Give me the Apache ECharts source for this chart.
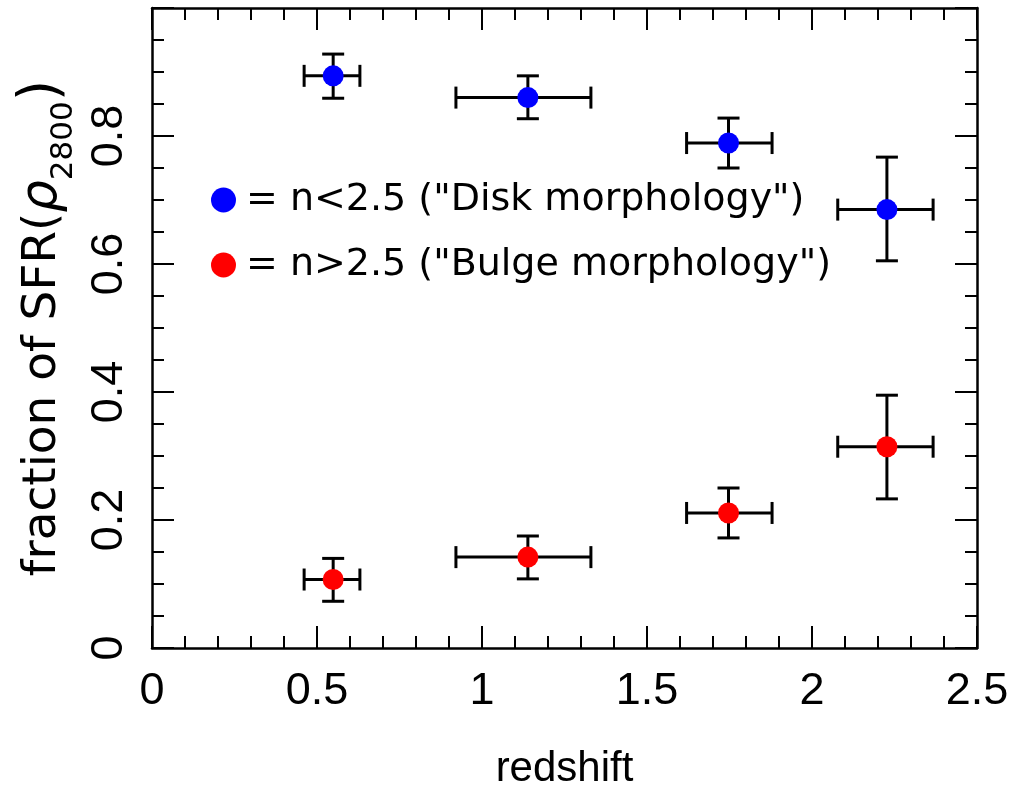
<!DOCTYPE html>
<html>
<head>
<meta charset="utf-8">
<script src="https://cdn.jsdelivr.net/npm/echarts@6/dist/echarts.min.js"></script>
<style>
html,body{margin:0;padding:0;background:#fff;}
#chart{width:1017px;height:808px;}
</style>
</head>
<body>
<div id="chart"></div>
<script>
// Data
const xCenters = [0.549, 1.139, 1.747, 2.227];
const xLow = [0.461, 0.921, 1.620, 2.078];
const xHigh = [0.630, 1.330, 1.879, 2.367];
const diskFrac = [0.894, 0.860, 0.789, 0.685];
const diskLow = [0.859, 0.827, 0.750, 0.605];
const diskHigh = [0.928, 0.894, 0.828, 0.767];
const bulgeFrac = [0.107, 0.142, 0.211, 0.3145];
const bulgeLow = [0.073, 0.108, 0.172, 0.233];
const bulgeHigh = [0.140, 0.175, 0.250, 0.395];
const seriesNames = ['= n<2.5 ("Disk morphology")', '= n>2.5 ("Bulge morphology")'];
const xTitle = 'redshift';

const FONT = "'Liberation Sans', Arial, sans-serif";
const WIDE = "'DejaVu Sans', sans-serif";

function errData(ys, lo, hi) {
  return xCenters.map((x, i) => [x, ys[i], xLow[i], xHigh[i], lo[i], hi[i]]);
}
function ptData(ys) {
  return xCenters.map((x, i) => [x, ys[i]]);
}
function renderErr(params, api) {
  const x = api.value(0), y = api.value(1);
  const pl = api.coord([api.value(2), y]);
  const ph = api.coord([api.value(3), y]);
  const pb = api.coord([x, api.value(4)]);
  const pt = api.coord([x, api.value(5)]);
  const cap = 11;
  const st = {stroke: '#000', lineWidth: 3, lineCap: 'butt'};
  const line = (x1, y1, x2, y2) => ({type: 'line', shape: {x1, y1, x2, y2}, style: st});
  return {
    type: 'group',
    children: [
      line(pl[0], pl[1], ph[0], ph[1]),
      line(pl[0], pl[1] - cap, pl[0], pl[1] + cap),
      line(ph[0], ph[1] - cap, ph[0], ph[1] + cap),
      line(pb[0], pb[1], pt[0], pt[1]),
      line(pb[0] - cap, pb[1], pb[0] + cap, pb[1]),
      line(pt[0] - cap, pt[1], pt[0] + cap, pt[1])
    ]
  };
}

const axisLine = {show: true, onZero: false, lineStyle: {color: '#000', width: 2.5}};
const tick = {show: true, inside: true, length: 22, lineStyle: {color: '#000', width: 2}};
const minor = (n) => ({show: true, splitNumber: n, length: 12, lineStyle: {color: '#000', width: 2}});

const chart = echarts.init(document.getElementById('chart'));
chart.setOption({
  backgroundColor: '#fff',
  animation: false,
  textStyle: {fontFamily: FONT},
  grid: {left: 152, right: 40, top: 8, bottom: 160},
  legend: {
    orient: 'vertical',
    left: 206, top: 176,
    itemWidth: 25, itemHeight: 25, itemGap: 27,
    icon: 'circle',
    data: seriesNames,
    textStyle: {fontFamily: WIDE, fontSize: 38, color: '#000', padding: [0, 0, 0, 5]}
  },
  xAxis: [{
    type: 'value', position: 'bottom', min: 0, max: 2.5, interval: 0.5,
    axisLine: axisLine, axisTick: tick, minorTick: minor(5),
    splitLine: {show: false},
    axisLabel: {color: '#000', fontSize: 45, fontFamily: FONT, margin: 21,
      formatter: v => String(v)},
    name: xTitle, nameLocation: 'middle', nameGap: 100,
    nameTextStyle: {color: '#000', fontSize: 42, fontFamily: FONT}
  }, {
    type: 'value', position: 'top', min: 0, max: 2.5, interval: 0.5,
    axisLine: axisLine, axisTick: tick, minorTick: minor(5),
    splitLine: {show: false}, axisLabel: {show: false}
  }],
  yAxis: [{
    type: 'value', position: 'left', min: 0, max: 1, interval: 0.2,
    axisLine: axisLine, axisTick: tick, minorTick: minor(4),
    splitLine: {show: false},
    axisLabel: {color: '#000', fontSize: 45, fontFamily: FONT, margin: 20, rotate: 90,
      formatter: v => (v >= 0.999 ? '' : String(Math.round(v * 10) / 10))},
    name: '{t|fraction of SFR(}{r|ρ}{s|2800}{p|)}',
    nameLocation: 'middle', nameGap: 74, nameRotate: 90,
    nameTextStyle: {
      color: '#000', fontFamily: WIDE,
      rich: {
        t: {fontSize: 47, color: '#000', fontFamily: WIDE, verticalAlign: 'middle', lineHeight: 60},
        r: {fontSize: 51, color: '#000', fontFamily: WIDE, fontStyle: 'italic', verticalAlign: 'middle', lineHeight: 60},
        s: {fontSize: 31, color: '#000', fontFamily: WIDE, verticalAlign: 'bottom', lineHeight: 32, padding: [0, 0, -6, 0]},
        p: {fontSize: 55, color: '#000', fontFamily: WIDE, verticalAlign: 'middle', lineHeight: 60}
      }
    }
  }, {
    type: 'value', position: 'right', min: 0, max: 1, interval: 0.2,
    axisLine: axisLine, axisTick: tick, minorTick: minor(4),
    splitLine: {show: false}, axisLabel: {show: false}
  }],
  series: [
    {name: 'diskErr', type: 'custom', renderItem: renderErr, data: errData(diskFrac, diskLow, diskHigh), z: 2, encode: {x: 0, y: 1}},
    {name: 'bulgeErr', type: 'custom', renderItem: renderErr, data: errData(bulgeFrac, bulgeLow, bulgeHigh), z: 2, encode: {x: 0, y: 1}},
    {name: seriesNames[0], type: 'scatter', data: ptData(diskFrac), symbol: 'circle', symbolSize: 21,
      itemStyle: {color: '#0000ff', opacity: 1}, z: 5},
    {name: seriesNames[1], type: 'scatter', data: ptData(bulgeFrac), symbol: 'circle', symbolSize: 21,
      itemStyle: {color: '#ff0000', opacity: 1}, z: 5}
  ]
});
</script>
</body>
</html>
